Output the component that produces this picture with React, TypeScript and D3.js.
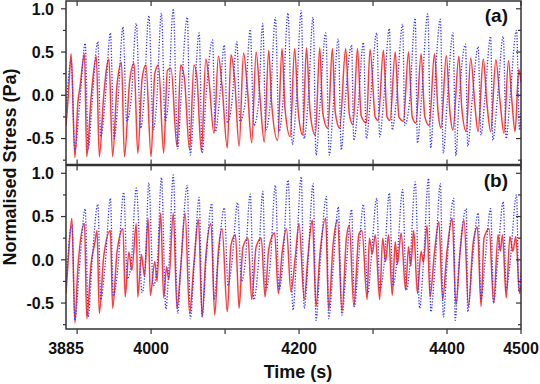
import React from "react";
import * as d3 from "d3";

const width = 540;
const height = 384;
const plotLeft = 66;
const plotRight = 521;

// readings from the figure: [time (s), normalised stress (Pa)]
const redA: [number, number][] = [
  [3885, -0.35], [3888, -0.03], [3892, 0.48], [3897, -0.72], [3901, -0.09], [3904, 0.1], [3910, 0.48],
  [3913, -0.71], [3919, -0.02], [3926, 0.45], [3930, -0.71], [3936, 0.0], [3943, 0.42], [3948, -0.71],
  [3954, 0.12], [3960, 0.38], [3964, -0.71], [3971, 0.16], [3977, 0.37], [3982, -0.67], [3988, 0.2],
  [3993, 0.35], [4000, -0.71], [4005, 0.25], [4010, 0.35], [4017, -0.67], [4022, 0.29], [4027, 0.31],
  [4035, -0.59], [4040, 0.35], [4045, 0.2], [4052, -0.63], [4058, 0.35], [4062, 0.2], [4068, -0.65],
  [4074, 0.42], [4078, 0.2], [4085, -0.44], [4091, 0.45], [4096, 0.1], [4103, -0.61], [4108, 0.47],
  [4113, 0.18], [4119, -0.59], [4125, 0.49], [4130, 0.1], [4136, -0.55], [4142, 0.5], [4147, 0.0],
  [4153, -0.54], [4159, 0.52], [4163, -0.1], [4171, -0.52], [4177, 0.54], [4181, -0.15], [4188, -0.48],
  [4194, 0.54], [4199, -0.2], [4205, -0.46], [4210, 0.55], [4215, -0.2], [4222, -0.46], [4228, 0.55],
  [4232, -0.2], [4239, -0.38], [4245, 0.54], [4249, -0.2], [4255, -0.38], [4263, 0.54], [4268, -0.22],
  [4273, -0.34], [4279, 0.54], [4284, -0.24], [4291, -0.32], [4296, 0.53], [4303, -0.25], [4307, -0.29],
  [4314, 0.52], [4319, -0.25], [4323, -0.29], [4330, 0.5], [4335, -0.25], [4341, -0.3], [4348, 0.5],
  [4353, -0.25], [4358, -0.32], [4365, 0.48], [4370, -0.25], [4376, -0.35], [4383, 0.48], [4388, -0.2],
  [4392, -0.38], [4399, 0.46], [4404, -0.2], [4408, -0.4], [4416, 0.45], [4420, -0.15], [4426, -0.42],
  [4432, 0.43], [4438, -0.15], [4442, -0.42], [4449, 0.42], [4454, -0.1], [4459, -0.42], [4466, 0.41],
  [4472, -0.1], [4477, -0.44], [4483, 0.4], [4488, -0.1], [4492, -0.42], [4497, 0.3], [4500, 0.15],
];

const blueA: [number, number][] = [
  [3885, -0.2], [3892, 0.4], [3897, -0.63], [3903, -0.15], [3911, 0.6], [3915, -0.63], [3920, -0.1],
  [3928, 0.62], [3932, -0.48], [3938, -0.05], [3945, 0.72], [3950, -0.5], [3955, -0.1], [3962, 0.79],
  [3967, -0.3], [3973, -0.05], [3980, 0.83], [3986, -0.38], [3990, -0.1], [3997, 0.92], [4003, -0.4],
  [4007, -0.15], [4014, 0.95], [4019, -0.3], [4023, -0.1], [4030, 1.0], [4036, -0.62], [4040, -0.1],
  [4049, 0.9], [4053, -0.69], [4058, -0.1], [4065, 0.72], [4069, -0.67], [4074, -0.05], [4083, 0.64],
  [4087, -0.42], [4092, -0.1], [4099, 0.58], [4103, -0.32], [4109, -0.1], [4116, 0.62], [4120, -0.3],
  [4127, -0.1], [4134, 0.76], [4139, -0.35], [4145, -0.1], [4151, 0.83], [4155, -0.4], [4161, -0.1],
  [4168, 0.9], [4173, -0.42], [4178, -0.1], [4185, 0.95], [4191, -0.57], [4196, -0.1], [4203, 0.98],
  [4207, -0.5], [4212, -0.1], [4219, 0.9], [4223, -0.69], [4228, -0.15], [4236, 0.72], [4241, -0.69],
  [4246, -0.15], [4253, 0.65], [4257, -0.63], [4262, -0.1], [4271, 0.58], [4274, -0.52], [4280, -0.1],
  [4287, 0.61], [4291, -0.5], [4296, -0.1], [4305, 0.72], [4309, -0.48], [4314, -0.1], [4322, 0.77],
  [4326, -0.4], [4331, -0.1], [4340, 0.82], [4343, -0.35], [4349, -0.1], [4357, 0.89], [4360, -0.55],
  [4365, -0.1], [4374, 0.94], [4378, -0.61], [4382, -0.1], [4391, 0.88], [4395, -0.67], [4400, -0.1],
  [4408, 0.72], [4412, -0.7], [4416, -0.1], [4425, 0.59], [4428, -0.59], [4434, -0.05], [4442, 0.56],
  [4446, -0.46], [4451, -0.05], [4459, 0.68], [4462, -0.52], [4468, -0.05], [4476, 0.68], [4480, -0.5],
  [4485, -0.05], [4494, 0.75], [4498, -0.4], [4500, -0.2],
];

const redB: [number, number][] = [
  [3885, -0.39], [3888, 0.0], [3893, 0.48], [3897, -0.73], [3901, -0.1], [3910, 0.42], [3913, -0.68],
  [3919, -0.04], [3924, 0.2], [3927, 0.34], [3930, -0.62], [3936, 0.04], [3945, 0.34], [3948, -0.56],
  [3954, 0.09], [3962, 0.36], [3965, -0.43], [3970, 0.09], [3974, -0.12], [3980, 0.42], [3982, -0.43],
  [3987, 0.06], [3991, -0.19], [3996, 0.48], [3999, -0.41], [4005, -0.02], [4008, -0.25], [4013, 0.54],
  [4017, -0.44], [4021, -0.08], [4024, -0.23], [4030, 0.54], [4035, -0.56], [4040, -0.1], [4046, 0.54],
  [4052, -0.62], [4058, -0.03], [4064, 0.47], [4069, -0.66], [4074, 0.04], [4081, 0.42], [4086, -0.64],
  [4091, 0.1], [4096, 0.36], [4103, -0.6], [4108, 0.17], [4114, 0.29], [4119, -0.56], [4124, 0.14],
  [4131, 0.25], [4136, -0.46], [4142, 0.15], [4149, 0.25], [4154, -0.43], [4159, 0.12], [4167, 0.31],
  [4172, -0.39], [4177, 0.07], [4183, 0.36], [4189, -0.37], [4195, 0.04], [4200, 0.42], [4207, -0.46],
  [4212, 0.04], [4218, 0.46], [4223, -0.54], [4228, 0.04], [4236, 0.48], [4240, -0.58], [4246, 0.17],
  [4252, 0.46], [4258, -0.6], [4264, 0.25], [4268, 0.4], [4274, -0.54], [4281, 0.3], [4285, 0.34],
  [4292, -0.46], [4295, 0.25], [4299, 0.07], [4303, 0.29], [4309, -0.46], [4313, 0.25], [4317, -0.02],
  [4321, 0.29], [4326, -0.41], [4330, 0.21], [4333, -0.05], [4338, 0.31], [4344, -0.35], [4348, 0.15],
  [4351, -0.07], [4355, 0.34], [4360, -0.39], [4365, 0.1], [4368, -0.03], [4373, 0.4], [4377, -0.43],
  [4383, 0.08], [4389, 0.44], [4394, -0.46], [4400, 0.1], [4407, 0.48], [4412, -0.52], [4418, 0.12],
  [4423, 0.46], [4429, -0.54], [4435, 0.17], [4441, 0.38], [4446, -0.54], [4450, 0.25], [4457, 0.36],
  [4463, -0.5], [4469, 0.29], [4472, 0.1], [4475, 0.29], [4480, -0.44], [4485, 0.27], [4489, 0.1],
  [4493, 0.27], [4498, -0.39], [4500, -0.3],
];

const blueB: [number, number][] = [
  [3885, -0.3], [3893, 0.4], [3897, -0.7], [3903, -0.1], [3911, 0.59], [3915, -0.66], [3920, -0.05],
  [3928, 0.64], [3932, -0.46], [3938, -0.05], [3945, 0.71], [3949, -0.42], [3955, -0.1], [3963, 0.78],
  [3968, -0.22], [3973, -0.05], [3980, 0.83], [3988, -0.38], [3992, -0.1], [3997, 0.89], [4003, -0.3],
  [4008, -0.1], [4014, 0.95], [4020, -0.57], [4024, -0.1], [4030, 0.98], [4036, -0.62], [4040, -0.1],
  [4049, 0.86], [4053, -0.68], [4058, -0.1], [4065, 0.72], [4069, -0.66], [4074, -0.05], [4082, 0.65],
  [4085, -0.46], [4090, -0.05], [4099, 0.6], [4104, -0.3], [4109, -0.05], [4117, 0.66], [4122, -0.25],
  [4127, -0.05], [4134, 0.76], [4139, -0.46], [4145, -0.05], [4151, 0.79], [4155, -0.35], [4161, -0.05],
  [4168, 0.86], [4173, -0.35], [4178, -0.05], [4185, 0.92], [4192, -0.58], [4196, -0.05], [4203, 0.96],
  [4207, -0.56], [4212, -0.05], [4219, 0.88], [4223, -0.7], [4228, -0.1], [4237, 0.73], [4240, -0.68],
  [4246, -0.1], [4253, 0.61], [4258, -0.64], [4264, -0.05], [4271, 0.58], [4275, -0.54], [4280, -0.05],
  [4287, 0.64], [4293, -0.39], [4297, -0.05], [4305, 0.71], [4309, -0.35], [4315, -0.05], [4322, 0.77],
  [4327, -0.3], [4332, -0.05], [4340, 0.81], [4345, -0.35], [4350, -0.05], [4357, 0.9], [4363, -0.56],
  [4368, -0.05], [4375, 0.94], [4378, -0.6], [4384, -0.05], [4391, 0.88], [4395, -0.66], [4400, -0.05],
  [4409, 0.71], [4411, -0.7], [4416, -0.05], [4426, 0.59], [4428, -0.6], [4434, -0.05], [4442, 0.54],
  [4446, -0.46], [4451, -0.05], [4459, 0.59], [4463, -0.5], [4468, -0.05], [4476, 0.67], [4480, -0.35],
  [4485, -0.05], [4494, 0.75], [4497, -0.37], [4500, -0.15],
];

const timeTicks = [3900, 4000, 4100, 4200, 4300, 4400, 4500];
const timeLabels = [3885, 4000, 4200, 4400, 4500];
const stressLabels = [-0.5, 0.0, 0.5, 1.0];
const stressMinor = [-0.75, -0.25, 0.25, 0.75];

const panels = [
  { key: "a", label: "(a)", top: 1, bottom: 164.5, red: redA, blue: blueA },
  { key: "b", label: "(b)", top: 165.5, bottom: 329, red: redB, blue: blueB },
];

const font = "'Liberation Sans', Arial, sans-serif";
const axisColor = "#333";

const x = d3.scaleLinear().domain([3885, 4500]).range([plotLeft, plotRight]);

function Panel({ p, last }: { p: (typeof panels)[number]; last: boolean }) {
  const y = d3.scaleLinear().domain([-0.8, 1.09]).range([p.bottom, p.top]);
  const line = d3
    .line<[number, number]>()
    .x((d) => x(d[0]))
    .y((d) => y(d[1]))
    .curve(d3.curveMonotoneX);
  const clipId = `clip-${p.key}`;
  return (
    <g>
      <clipPath id={clipId}>
        <rect x={plotLeft} y={p.top} width={plotRight - plotLeft} height={p.bottom - p.top} />
      </clipPath>
      <g clipPath={`url(#${clipId})`}>
        <path d={line(p.red) || ""} fill="none" stroke="#ff3a3a" strokeWidth={1.5} strokeLinejoin="round" />
        <path d={line(p.blue) || ""} fill="none" stroke="#3b3bff" strokeWidth={1.3} strokeDasharray="1.3 1.6" />
      </g>
      <rect
        x={plotLeft}
        y={p.top}
        width={plotRight - plotLeft}
        height={p.bottom - p.top}
        fill="none"
        stroke={axisColor}
        strokeWidth={1.5}
      />
      {/* left axis: outward ticks */}
      {stressLabels.map((v) => (
        <g key={`l${v}`}>
          <line x1={plotLeft - 5} x2={plotLeft} y1={y(v)} y2={y(v)} stroke={axisColor} strokeWidth={1.2} />
          <text
            x={54}
            y={y(v) + 5.8}
            textAnchor="end"
            fontFamily={font}
            fontWeight="bold"
            fontSize={16}
            fill="#111"
          >
            {v.toFixed(1)}
          </text>
        </g>
      ))}
      {stressMinor.map((v) => (
        <line key={`lm${v}`} x1={plotLeft - 3} x2={plotLeft} y1={y(v)} y2={y(v)} stroke={axisColor} strokeWidth={1.2} />
      ))}
      {/* right axis: inward ticks */}
      {stressLabels.map((v) => (
        <line key={`r${v}`} x1={plotRight - 5} x2={plotRight} y1={y(v)} y2={y(v)} stroke={axisColor} strokeWidth={1.2} />
      ))}
      {stressMinor.map((v) => (
        <line key={`rm${v}`} x1={plotRight - 3} x2={plotRight} y1={y(v)} y2={y(v)} stroke={axisColor} strokeWidth={1.2} />
      ))}
      {/* top ticks inward */}
      {timeTicks.map((t) => (
        <line key={`t${t}`} x1={x(t)} x2={x(t)} y1={p.top} y2={p.top + 5} stroke={axisColor} strokeWidth={1.2} />
      ))}
      {/* bottom ticks */}
      {timeTicks.map((t) =>
        last ? (
          <line key={`b${t}`} x1={x(t)} x2={x(t)} y1={p.bottom} y2={p.bottom + 5} stroke={axisColor} strokeWidth={1.2} />
        ) : (
          <line key={`b${t}`} x1={x(t)} x2={x(t)} y1={p.bottom - 5} y2={p.bottom} stroke={axisColor} strokeWidth={1.2} />
        )
      )}
      <text
        x={508}
        y={p.top + 21}
        textAnchor="end"
        fontFamily={font}
        fontWeight="bold"
        fontSize={19}
        fill="#111"
      >
        {p.label}
      </text>
    </g>
  );
}

export default function App() {
  return (
    <svg
      width={width}
      height={height}
      style={{ position: "absolute", left: 0, top: 0, display: "block", background: "#fff" }}
    >
      <rect width={width} height={height} fill="#fff" />
      {panels.map((p, i) => (
        <Panel key={p.key} p={p} last={i === panels.length - 1} />
      ))}
      {timeLabels.map((t) => (
        <text
          key={t}
          x={x(t)}
          y={354}
          textAnchor="middle"
          fontFamily={font}
          fontWeight="bold"
          fontSize={16}
          fill="#111"
        >
          {t}
        </text>
      ))}
      <text x={298} y={378} textAnchor="middle" fontFamily={font} fontWeight="bold" fontSize={18} fill="#111">
        Time (s)
      </text>
      <text
        transform="translate(16,167) rotate(-90)"
        textAnchor="middle"
        fontFamily={font}
        fontWeight="bold"
        fontSize={18}
        fill="#111"
      >
        Normalised Stress (Pa)
      </text>
    </svg>
  );
}
